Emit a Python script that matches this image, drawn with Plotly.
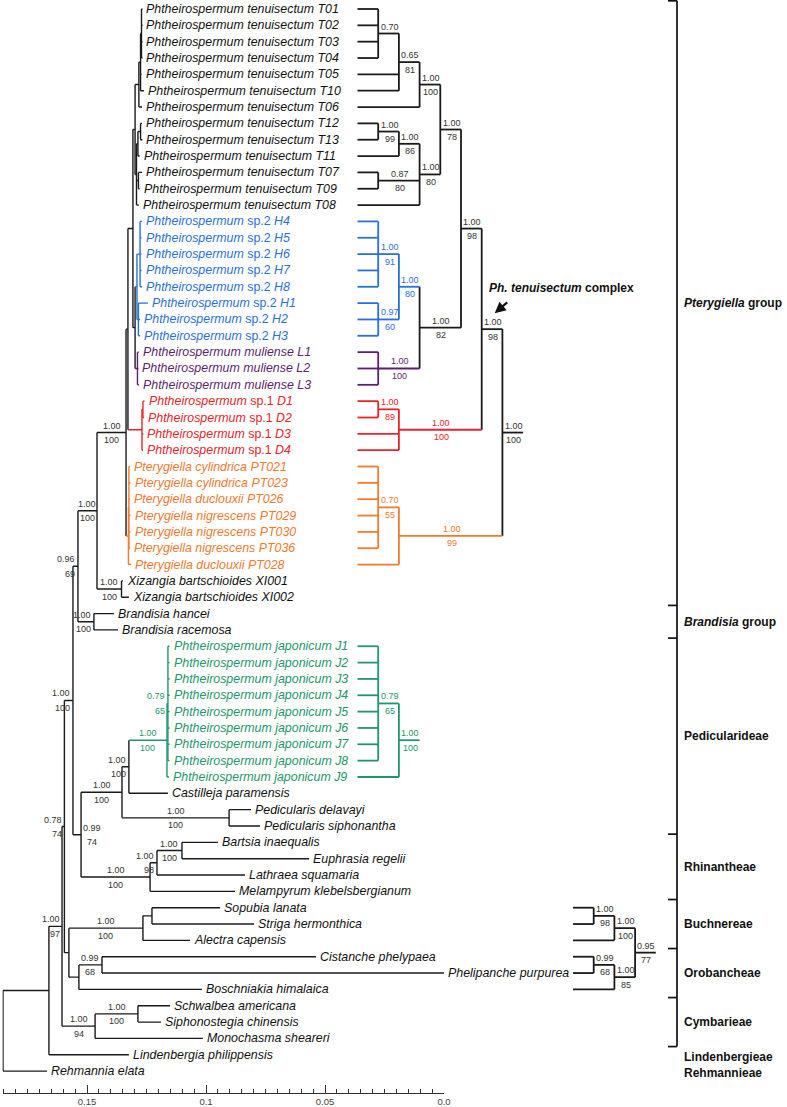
import plotly.graph_objects as go

W, H = 787, 1107

# ---------------- tips (top-to-bottom row order) ----------------
tip_ids = ["T01", "T02", "T03", "T04", "T05", "T10", "T06", "T12", "T13", "T11", "T07", "T09", "T08",
           "H4", "H5", "H6", "H7", "H8", "H1", "H2", "H3", "L1", "L2", "L3", "D1", "D2", "D3", "D4",
           "PT021", "PT023", "PT026", "PT029", "PT030", "PT036", "PT028", "XI001", "XI002",
           "Bhan", "Brac", "J1", "J2", "J3", "J4", "J5", "J6", "J7", "J8", "J9",
           "Cpar", "Pdel", "Psip", "Bina", "Ereg", "Lsqu", "Mkle", "Slan", "Sher", "Acap",
           "Cphe", "Ppur", "Bhim", "Same", "Schi", "Mshe", "Lphi", "Rela"]
tip_names = ["Phtheirospermum tenuisectum T01", "Phtheirospermum tenuisectum T02",
             "Phtheirospermum tenuisectum T03", "Phtheirospermum tenuisectum T04",
             "Phtheirospermum tenuisectum T05", "Phtheirospermum tenuisectum T10",
             "Phtheirospermum tenuisectum T06", "Phtheirospermum tenuisectum T12",
             "Phtheirospermum tenuisectum T13", "Phtheirospermum tenuisectum T11",
             "Phtheirospermum tenuisectum T07", "Phtheirospermum tenuisectum T09",
             "Phtheirospermum tenuisectum T08",
             "Phtheirospermum sp.2 H4", "Phtheirospermum sp.2 H5", "Phtheirospermum sp.2 H6",
             "Phtheirospermum sp.2 H7", "Phtheirospermum sp.2 H8", "Phtheirospermum sp.2 H1",
             "Phtheirospermum sp.2 H2", "Phtheirospermum sp.2 H3",
             "Phtheirospermum muliense L1", "Phtheirospermum muliense L2", "Phtheirospermum muliense L3",
             "Phtheirospermum sp.1 D1", "Phtheirospermum sp.1 D2", "Phtheirospermum sp.1 D3",
             "Phtheirospermum sp.1 D4",
             "Pterygiella cylindrica PT021", "Pterygiella cylindrica PT023", "Pterygiella duclouxii PT026",
             "Pterygiella nigrescens PT029", "Pterygiella nigrescens PT030", "Pterygiella nigrescens PT036",
             "Pterygiella duclouxii PT028",
             "Xizangia bartschioides XI001", "Xizangia bartschioides XI002",
             "Brandisia hancei", "Brandisia racemosa",
             "Phtheirospermum japonicum J1", "Phtheirospermum japonicum J2", "Phtheirospermum japonicum J3",
             "Phtheirospermum japonicum J4", "Phtheirospermum japonicum J5", "Phtheirospermum japonicum J6",
             "Phtheirospermum japonicum J7", "Phtheirospermum japonicum J8", "Phtheirospermum japonicum J9",
             "Castilleja paramensis", "Pedicularis delavayi", "Pedicularis siphonantha",
             "Bartsia inaequalis", "Euphrasia regelii", "Lathraea squamaria", "Melampyrum klebelsbergianum",
             "Sopubia lanata", "Striga hermonthica", "Alectra capensis",
             "Cistanche phelypaea", "Phelipanche purpurea", "Boschniakia himalaica",
             "Schwalbea americana", "Siphonostegia chinensis", "Monochasma sheareri",
             "Lindenbergia philippensis", "Rehmannia elata"]
# tip positions read on the scale axis (0.0 at right)
tip_x = [0.1267, 0.1267, 0.1267, 0.1267, 0.1271, 0.1261, 0.1269, 0.1269, 0.1267, 0.1279, 0.1269, 0.1279, 0.1282,
         0.1269, 0.1271, 0.1271, 0.1271, 0.1269, 0.1244, 0.1277, 0.1277, 0.1282, 0.1284, 0.1282,
         0.1258, 0.1261, 0.1263, 0.1265,
         0.1319, 0.1317, 0.1319, 0.1317, 0.1317, 0.1319, 0.1315, 0.1349, 0.1324,
         0.1387, 0.1370,
         0.1153, 0.1153, 0.1153, 0.1153, 0.1153, 0.1153, 0.1153, 0.1153, 0.1155,
         0.1160, 0.0811, 0.0773, 0.0950, 0.0567, 0.0836, 0.0878, 0.0941, 0.0798, 0.1067,
         0.0538, 0.0, 0.1017, 0.1151, 0.1189, 0.1013, 0.1324, 0.1668]
tip_clade = ["k"] * 13 + ["b"] * 8 + ["p"] * 3 + ["r"] * 4 + ["o"] * 7 + ["k"] * 4 + ["g"] * 9 + ["k"] * 18

# ---------------- internal nodes ----------------
node_ids = ["root", "A", "B", "C", "E", "N096", "H", "I", "M", "K", "Tenu", "TA", "TA2", "TA1",
            "TB", "TB2", "TB1", "TB3", "SpMul", "Sp2", "Sp2a", "Sp2b", "Mul", "Sp1", "Sp1a",
            "Ptery", "PteryA", "Xiz", "Brand", "N099", "F", "G", "Jall", "J18", "Ped",
            "Rhin", "R98", "BE", "D", "Buch", "SS", "Orob", "CP", "Cymb", "SchSip"]
node_children = [["A", "Rela"], ["B", "Lphi"], ["C", "Cymb"], ["E", "D"], ["N096", "N099"],
                 ["H", "Brand"], ["I", "Xiz"], ["M", "Ptery"], ["K", "Sp1"], ["Tenu", "SpMul"],
                 ["TA", "TB"], ["TA2", "T06"], ["TA1", "T05", "T10"], ["T01", "T02", "T03", "T04"],
                 ["TB2", "TB3", "T08"], ["TB1", "T11"], ["T12", "T13"], ["T07", "T09"],
                 ["Sp2", "Mul"], ["Sp2a", "Sp2b"], ["H4", "H5", "H6", "H7", "H8"], ["H1", "H2", "H3"],
                 ["L1", "L2", "L3"], ["Sp1a", "D3", "D4"], ["D1", "D2"],
                 ["PteryA", "PT028"], ["PT021", "PT023", "PT026", "PT029", "PT030", "PT036"],
                 ["XI001", "XI002"], ["Bhan", "Brac"], ["F", "Rhin"], ["G", "Ped"], ["Jall", "Cpar"],
                 ["J18", "J9"], ["J1", "J2", "J3", "J4", "J5", "J6", "J7", "J8"], ["Pdel", "Psip"],
                 ["R98", "Mkle"], ["BE", "Lsqu"], ["Bina", "Ereg"], ["Buch", "Orob"], ["SS", "Acap"],
                 ["Slan", "Sher"], ["CP", "Bhim"], ["Cphe", "Ppur"], ["SchSip", "Mshe"], ["Same", "Schi"]]
node_x = [0.1853, 0.1660, 0.1605, 0.1595, 0.1559, 0.1538, 0.1458, 0.1336, 0.1328, 0.1307, 0.1298, 0.1282,
          0.1275, 0.1271, 0.1292, 0.1286, 0.1275, 0.1284, 0.1298, 0.1290, 0.1277, 0.1284, 0.1288, 0.1269,
          0.1265, 0.1326, 0.1324, 0.1355, 0.1471, 0.1525, 0.1353, 0.1324, 0.1164, 0.1160, 0.0903,
          0.1235, 0.1206, 0.1101, 0.1576, 0.1265, 0.1227, 0.1534, 0.1437, 0.1466, 0.1286]

# ---------------- support values on the phylogram ----------------
phylo_lab_nodes = ["B", "C", "E", "N096", "H", "I", "Xiz", "Brand", "N099", "F", "G", "Jall", "J18",
                   "Ped", "Rhin", "R98", "BE", "Buch", "CP", "Cymb", "SchSip"]
phylo_lab_post = ["1.00", "0.78", "1.00", "0.96", "1.00", "1.00", "1.00", "1.00", "0.99", "1.00", "1.00",
                  "1.00", "0.79", "1.00", "1.00", "1.00", "1.00", "1.00", "0.99", "1.00", "1.00"]
phylo_lab_boot = ["97", "74", "100", "69", "100", "100", "100", "100", "74", "100", "100",
                  "100", "65", "100", "100", "98", "100", "100", "68", "94", "100"]
phylo_lab_place = ["r", "r", "r", "r", "c", "c", "c", "r", "R", "c", "r",
                   "c", "r", "c", "c", "r", "c", "c", "c", "c", "c"]

# ---------------- cladograms (right side) ----------------
clado_roots = ["I", "Jall", "D"]
clado_lab_nodes = ["TA1", "TA2", "TA", "TB1", "TB2", "TB3", "TB", "Tenu", "K", "Sp2a", "Sp2b", "Sp2",
                   "Mul", "SpMul", "Sp1a", "Sp1", "M", "PteryA", "Ptery", "I", "J18", "Jall",
                   "SS", "Buch", "CP", "Orob", "D"]
clado_lab_post = ["0.70", "0.65", "1.00", "1.00", "1.00", "0.87", "1.00", "1.00", "1.00", "1.00", "0.97", "1.00",
                  "1.00", "1.00", "1.00", "1.00", "1.00", "0.70", "1.00", "1.00", "0.79", "1.00",
                  "1.00", "1.00", "0.99", "1.00", "0.95"]
clado_lab_boot = ["", "81", "100", "99", "86", "80", "80", "78", "98", "91", "60", "80",
                  "100", "82", "89", "100", "98", "55", "99", "100", "65", "100",
                  "98", "100", "68", "85", "77"]

# ---------------- group brackets ----------------
group_names = ["<i>Pterygiella</i> group", "<i>Brandisia</i> group", "Pedicularideae", "Rhinantheae",
               "Buchnereae", "Orobancheae", "Cymbarieae"]
group_first = [0, 37, 39, 51, 55, 58, 61]
group_last = [36, 38, 50, 54, 57, 60, 63]
extra_names = ["Lindenbergieae", "Rehmannieae"]
extra_rows = [64, 65]

scale_major = [0.15, 0.1, 0.05, 0.0]
scale_major_text = ["0.15", "0.1", "0.05", "0.0"]
scale_minor_step = 0.005

# ---------------- styling / layout constants ----------------
FONT = "Liberation Sans, Arial, Helvetica, sans-serif"
COLORS = {"k": "#1a1a1a", "b": "#2a6fd6", "p": "#5b1f6e", "r": "#e8232b", "o": "#f07a2e", "g": "#23956c"}
ROW0_PX, ROW_STEP, AXIS_PX = 9.0, 16.34, 1093.0
X0_PX, PX_PER_UNIT = 444.0, 2380.0
RANGE_L, RANGE_R = 0.1855, -0.0002
CL_X0 = [357.5, 357.5, 573.0]
CL_STEP = 20.7
BRACKET_PX, BRACKET_TICK = 677.0, 9.0

# ---------------- tree bookkeeping ----------------
pos_x, row, parent, children = {}, {}, {}, {}
for i, t in enumerate(tip_ids):
    pos_x[t] = tip_x[i]
    row[t] = float(i)
for n, ch, x in zip(node_ids, node_children, node_x):
    pos_x[n] = x
    children[n] = ch
    for c in ch:
        parent[c] = n
clade_of_tip = dict(zip(tip_ids, tip_clade))


def row_of(n):
    if n not in row:
        rs = [row_of(c) for c in children[n]]
        row[n] = (min(rs) + max(rs)) / 2
    return row[n]


def color_of(n):
    if n in clade_of_tip:
        return clade_of_tip[n]
    cs = {color_of(c) for c in children[n]}
    return cs.pop() if len(cs) == 1 else "k"


for n in node_ids:
    row_of(n)

fig = go.Figure()


def add_seg(store, col, x0, y0, x1, y1):
    xs, ys = store.setdefault(col, ([], []))
    xs += [x0, x1, None]
    ys += [y0, y1, None]


def flush(store, xaxis, width):
    for col, (xs, ys) in store.items():
        fig.add_trace(go.Scatter(x=xs, y=ys, mode="lines", xaxis=xaxis, yaxis="y",
                                 line=dict(color=COLORS[col], width=width),
                                 hoverinfo="skip", showlegend=False))


# phylogram
segs = {}
for n in list(tip_ids) + node_ids:
    col = color_of(n)
    if n in parent:
        add_seg(segs, col, pos_x[parent[n]], row[n], pos_x[n], row[n])
    if n in children:
        rs = [row[c] for c in children[n]]
        add_seg(segs, col, pos_x[n], min(rs), pos_x[n], max(rs))
flush(segs, "x", 1.4)

# cladograms
level = {}


def level_of(n):
    if n not in level:
        level[n] = 0 if n not in children else max(level_of(c) for c in children[n]) + 1
    return level[n]


def subtree(n):
    out = [n]
    for c in children.get(n, []):
        out += subtree(c)
    return out


clado_px = {}
clado_parent_px = {}
csegs = {}
for root, x0 in zip(clado_roots, CL_X0):
    members = subtree(root)
    for n in members:
        clado_px[n] = x0 + level_of(n) * CL_STEP
    for n in members:
        col = color_of(n)
        ppx = clado_px[parent[n]] if n != root else clado_px[n] + CL_STEP
        clado_parent_px[n] = ppx
        add_seg(csegs, col, clado_px[n], row[n], ppx, row[n])
        if n in children:
            rs = [row[c] for c in children[n]]
            add_seg(csegs, col, clado_px[n], min(rs), clado_px[n], max(rs))
flush(csegs, "x2", 1.8)

# group bracket
bx, by = [], []
bounds = [group_first[0] - 0.5] + [g + 0.5 for g in group_last]
bx += [BRACKET_PX, BRACKET_PX, None]
by += [bounds[0], bounds[-1], None]
for b in bounds:
    bx += [BRACKET_PX - BRACKET_TICK, BRACKET_PX, None]
    by += [b, b, None]
fig.add_trace(go.Scatter(x=bx, y=by, mode="lines", xaxis="x2", yaxis="y",
                         line=dict(color="#111111", width=1.7), hoverinfo="skip", showlegend=False))

ann = []


def fmt_tip(name):
    for s in (" sp.1 ", " sp.2 "):
        if s in name:
            a, b = name.split(s)
            return "<i>%s</i>%s<i>%s</i>" % (a, s, b)
    return "<i>%s</i>" % name


for t, name in zip(tip_ids, tip_names):
    c = clade_of_tip[t]
    ann.append(dict(x=pos_x[t], y=row[t], xref="x", yref="y", text=fmt_tip(name), showarrow=False,
                    xanchor="left", yanchor="middle", xshift=3, borderpad=0,
                    font=dict(family=FONT, size=12.4, color=COLORS[c] if c != "k" else "#111111")))


def sup_pair(x, y, xref, post, boot, col, xanchor, xshift):
    font = dict(family=FONT, size=9, color=col)
    if post:
        ann.append(dict(x=x, y=y, xref=xref, yref="y", text=post, showarrow=False, xanchor=xanchor,
                        yanchor="bottom", yshift=1, xshift=xshift, borderpad=0, font=font))
    if boot:
        ann.append(dict(x=x, y=y, xref=xref, yref="y", text=boot, showarrow=False, xanchor=xanchor,
                        yanchor="top", yshift=-1.5, xshift=xshift, borderpad=0, font=font))


for n, p, b, pl in zip(phylo_lab_nodes, phylo_lab_post, phylo_lab_boot, phylo_lab_place):
    col = COLORS[color_of(n)] if color_of(n) != "k" else "#333333"
    if pl == "c":
        sup_pair((pos_x[n] + pos_x[parent[n]]) / 2, row[n], "x", p, b, col, "center", 0)
    elif pl == "r":
        sup_pair(pos_x[n], row[n], "x", p, b, col, "right", -1.5)
    else:
        sup_pair(pos_x[n], row[n], "x", p, b, col, "center", 11)

for n, p, b in zip(clado_lab_nodes, clado_lab_post, clado_lab_boot):
    col = COLORS[color_of(n)] if color_of(n) != "k" else "#333333"
    sup_pair((clado_px[n] + clado_parent_px[n]) / 2, row[n], "x2", p, b, col, "center", 1)

# group labels
for name, a, b in zip(group_names, group_first, group_last):
    ann.append(dict(x=BRACKET_PX, y=(a + b) / 2, xref="x2", yref="y", text="<b>%s</b>" % name,
                    showarrow=False, xanchor="left", yanchor="middle", xshift=6, borderpad=0,
                    font=dict(family=FONT, size=12, color="#111111")))
for name, r in zip(extra_names, extra_rows):
    ann.append(dict(x=BRACKET_PX, y=r, xref="x2", yref="y", text="<b>%s</b>" % name,
                    showarrow=False, xanchor="left", yanchor="middle", xshift=6, yshift=-2, borderpad=0,
                    font=dict(family=FONT, size=12, color="#111111")))

# Ph. tenuisectum complex arrow + label
ann.append(dict(x=clado_px["M"], y=row["M"], xref="x2", yref="y", text="", showarrow=True,
                arrowhead=2, arrowsize=1, arrowwidth=2.2, arrowcolor="#111111",
                ax=14, ay=-12, xshift=13, yshift=16))
ann.append(dict(x=clado_px["M"], y=row["M"], xref="x2", yref="y",
                text="<b><i>Ph. tenuisectum</i> complex</b>", showarrow=False,
                xanchor="left", yanchor="middle", xshift=6, yshift=41, borderpad=0,
                font=dict(family=FONT, size=12, color="#111111")))

fig.update_layout(
    width=W, height=H, margin=dict(l=0, r=0, t=0, b=0, autoexpand=False),
    paper_bgcolor="white", plot_bgcolor="rgba(0,0,0,0)",
    showlegend=False, annotations=ann,
    xaxis=dict(domain=[(X0_PX - RANGE_L * PX_PER_UNIT) / W, (X0_PX - RANGE_R * PX_PER_UNIT) / W],
               range=[RANGE_L, RANGE_R], anchor="y", showgrid=False, zeroline=False, automargin=False,
               showline=True, linecolor="#333333", linewidth=1,
               ticks="inside", ticklen=8, tickwidth=1, tickcolor="#333333",
               tickmode="array", tickvals=scale_major, ticktext=scale_major_text,
               tickfont=dict(family=FONT, size=9.5, color="#444444"),
               minor=dict(ticks="inside", ticklen=4, tickwidth=1, tickcolor="#333333",
                          dtick=scale_minor_step, tick0=0, showgrid=False),
               fixedrange=True),
    yaxis=dict(domain=[1 - AXIS_PX / H, 1],
               range=[(AXIS_PX - ROW0_PX) / ROW_STEP, -ROW0_PX / ROW_STEP],
               visible=False, fixedrange=True, automargin=False),
    xaxis2=dict(domain=[0, 1], range=[0, W], anchor="y", visible=False, fixedrange=True,
                automargin=False),
)

fig.write_html("out.html", config={"displayModeBar": False, "staticPlot": True},
               post_script="document.body.style.margin='0';document.body.style.overflow='hidden';")
